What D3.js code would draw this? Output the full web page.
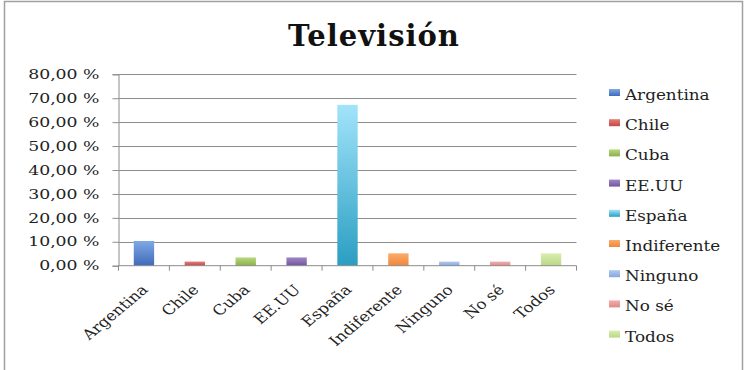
<!DOCTYPE html>
<html>
<head>
<meta charset="utf-8">
<script src="https://cdn.jsdelivr.net/npm/d3@7"></script>
<style>
  html, body { margin: 0; padding: 0; background: #fff; }
  svg { display: block; }
  svg text { font-family: "DejaVu Serif", serif !important; fill: #222; }
</style>
</head>
<body>
<svg id="chart" width="744" height="370"></svg>
<script>
// Respuestas sobre televisión (% de encuestados)
const title = "Televisión";
const categories = ["Argentina", "Chile", "Cuba", "EE.UU", "España", "Indiferente", "Ninguno", "No sé", "Todos"];
const values = [10.34, 1.72, 3.45, 3.45, 67.24, 5.17, 1.72, 1.72, 5.17];
const yTicks = [0, 10, 20, 30, 40, 50, 60, 70, 80];
// light (top) and base (bottom) tone of each bar
const topColors = ["#80a8e6", "#e77a78", "#b7d97f", "#9f86c6", "#a2e4fa", "#fbab6c", "#b0caf0", "#f3aeae", "#d8eeb0"];
const baseColors = ["#3f6bb8", "#c24a47", "#8db048", "#7256a0", "#2a9ec2", "#f0873a", "#87a7dc", "#e08888", "#bad784"];

const SERIF = "DejaVu Serif";
const STRETCH = 1.2;   // text is drawn slightly widened
const svg = d3.select("#chart");
const W = 744, H = 370;

// outer frame
svg.append("path")
  .attr("d", `M4.5,${H} V1.5 H742.5 V${H}`)
  .attr("fill", "none").attr("stroke", "#a0a0a0").attr("stroke-width", 1.5);

svg.append("text")
  .attr("x", 374).attr("y", 46)
  .attr("text-anchor", "middle")
  .style("font-family", SERIF)
  .style("font-size", "29px").style("font-weight", "bold").style("letter-spacing", "1px")
  .style("fill", "#111")
  .text(title);

const plot = { left: 118.5, right: 576.5, top: 74.3, bottom: 265.7 };

const x = d3.scaleBand().domain(categories).range([plot.left, plot.right]).paddingInner(0.6).paddingOuter(0.3);
const xb = d3.scaleBand().domain(categories).range([plot.left, plot.right]);
const y = d3.scaleLinear().domain([0, 80]).range([plot.bottom, plot.top]);

const defs = svg.append("defs");
categories.forEach((c, i) => {
  const g = defs.append("linearGradient").attr("id", "g" + i)
    .attr("x1", 0).attr("y1", 0).attr("x2", 0).attr("y2", 1);
  g.append("stop").attr("offset", "0%").attr("stop-color", topColors[i]);
  g.append("stop").attr("offset", "100%").attr("stop-color", baseColors[i]);
});

// gridlines
svg.append("g").selectAll("line").data(yTicks.slice(1)).join("line")
  .attr("x1", plot.left).attr("x2", plot.right)
  .attr("y1", d => Math.round(y(d)) + 0.5).attr("y2", d => Math.round(y(d)) + 0.5)
  .attr("stroke", "#8c8c8c").attr("stroke-width", 1);

// y axis
const fmt = d => d3.format(".2f")(d).replace(".", ",") + " %";
const yAxis = svg.append("g").attr("transform", `translate(${plot.left},0)`)
  .call(d3.axisLeft(y).tickValues(yTicks).tickFormat(fmt).tickSize(6).tickPadding(13));
yAxis.select(".domain").attr("stroke", "#8c8c8c");
yAxis.selectAll(".tick line").attr("stroke", "#8c8c8c");
yAxis.selectAll(".tick text")
  .attr("x", 0)
  .attr("transform", "translate(-19,0) scale(1.33,1)")
  .style("font-family", SERIF).style("font-size", "13px")
  .style("fill", "#222");

// bars
svg.append("g").selectAll("rect").data(values).join("rect")
  .attr("x", (d, i) => x(categories[i]))
  .attr("width", x.bandwidth())
  .attr("y", d => y(d))
  .attr("height", d => plot.bottom - y(d))
  .attr("fill", (d, i) => `url(#g${i})`);

// x axis with ticks at category boundaries
const xAxisG = svg.append("g").attr("transform", `translate(0,${plot.bottom})`);
xAxisG.append("line").attr("x1", plot.left).attr("x2", plot.right)
  .attr("stroke", "#8c8c8c");
const bounds = categories.map(c => xb(c)).concat([plot.right]);
xAxisG.selectAll("line.tk").data(bounds).join("line").attr("class", "tk")
  .attr("x1", d => d).attr("x2", d => d).attr("y1", 0).attr("y2", 5)
  .attr("stroke", "#8c8c8c");
xAxisG.selectAll("text").data(categories).join("text")
  .attr("text-anchor", "end")
  .attr("transform", c => `translate(${xb(c) + xb.bandwidth() / 2 + 5},${25}) scale(${STRETCH},1) rotate(-45)`)
  .style("font-family", SERIF).style("font-size", "14px")
  .text(c => c);

// legend
const lg = svg.append("g").attr("transform", "translate(609,95)");
const rows = lg.selectAll("g").data(categories).join("g")
  .attr("transform", (c, i) => `translate(0,${i * 30.2})`);
rows.append("rect").attr("x", 0).attr("y", -6).attr("width", 11).attr("height", 7)
  .attr("fill", (c, i) => `url(#g${i})`);
rows.append("text")
  .attr("transform", `translate(16,5) scale(${STRETCH},1)`)
  .style("font-family", SERIF).style("font-size", "14px")
  .text(c => c);
</script>
</body>
</html>
